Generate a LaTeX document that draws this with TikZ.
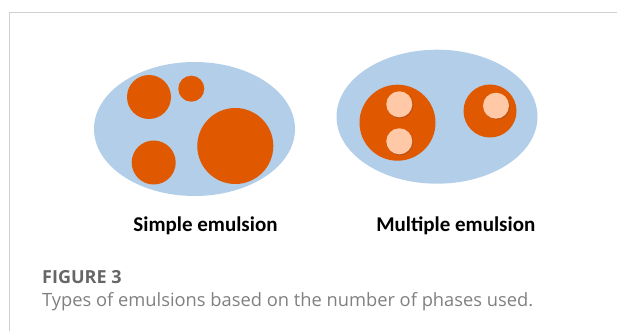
\documentclass[tikz,border=0pt]{standalone}
\usepackage{fontspec}
\setmainfont{Open Sans}
\newfontfamily\labelfont{Carlito}
\usepackage{xcolor}
\usepackage{tikz}
\usetikzlibrary{shapes.geometric,positioning}
\definecolor{oilblue}{RGB}{179,206,232}
\definecolor{droporange}{RGB}{224,89,0}
\definecolor{dropshade}{RGB}{190,80,20}
\definecolor{corepeach}{RGB}{255,200,166}
\definecolor{framegray}{RGB}{208,208,208}
\definecolor{capgray}{RGB}{102,102,102}
\definecolor{textgray}{RGB}{128,128,128}
\tikzset{
  phase/.style={ellipse,fill=oilblue,inner sep=0pt,minimum width=201pt,minimum height=134pt},
  droplet/.style={circle,fill=droporange,inner sep=0pt},
  core/.style={circle,fill=corepeach,inner sep=0pt,minimum size=26pt},
  coreshade/.style={circle,fill=dropshade,inner sep=0pt,minimum size=26pt},
  lbl/.style={font=\labelfont\bfseries\fontsize{21}{24}\selectfont},
}

\begin{document}
\begin{tikzpicture}[x=1pt,y=-1pt]
  \useasboundingbox (0,0) rectangle (617,331);
  \draw[framegray,line width=1pt] (9.5,331) |- (617,12.5);

  % simple emulsion
  \node[phase] (simple) at (194.5,129) {};
  \node[droplet,minimum size=44pt] (sa) at (149,97) {};
  \node[droplet,minimum size=26pt] (sb) at (191.3,88.7) {};
  \node[droplet,minimum size=44pt] (sc) at (153.7,162.5) {};
  \node[droplet,minimum size=76pt] (sd) at (235.3,146) {};

  % multiple emulsion
  \node[phase] (multi) at (437,116.7) {};
  \node[droplet,minimum size=76pt] (ma) at (397.5,122.7) {};
  \node[droplet,minimum size=53pt] (mb) at (490,111) {};
  \node[coreshade] at (400.3,105.3) {};
  \node[core] (ca) at (399.3,104.3) {};
  \node[coreshade] at (400.3,142.3) {};
  \node[core] (cb) at (399.3,141.3) {};
  \node[coreshade] at (497,106.7) {};
  \node[core] (cc) at (496,105.7) {};

  \node[lbl,anchor=base] (simplelbl) at (205.5,231) {Simple emulsion};
  \node[lbl,anchor=base] (multilbl) at (455.8,231.5) {Multiple emulsion};

  \node[anchor=base west,inner sep=0pt,text=capgray,font=\bfseries\fontsize{18}{20}\selectfont] (fig) at (42,283.5) {FIGURE 3};
  \node[anchor=base west,inner sep=0pt,text=textgray,font=\fontsize{18.3}{20}\selectfont] (cap) at (42,306.5) {Types of emulsions based on the number of phases used.};
\end{tikzpicture}
\end{document}
